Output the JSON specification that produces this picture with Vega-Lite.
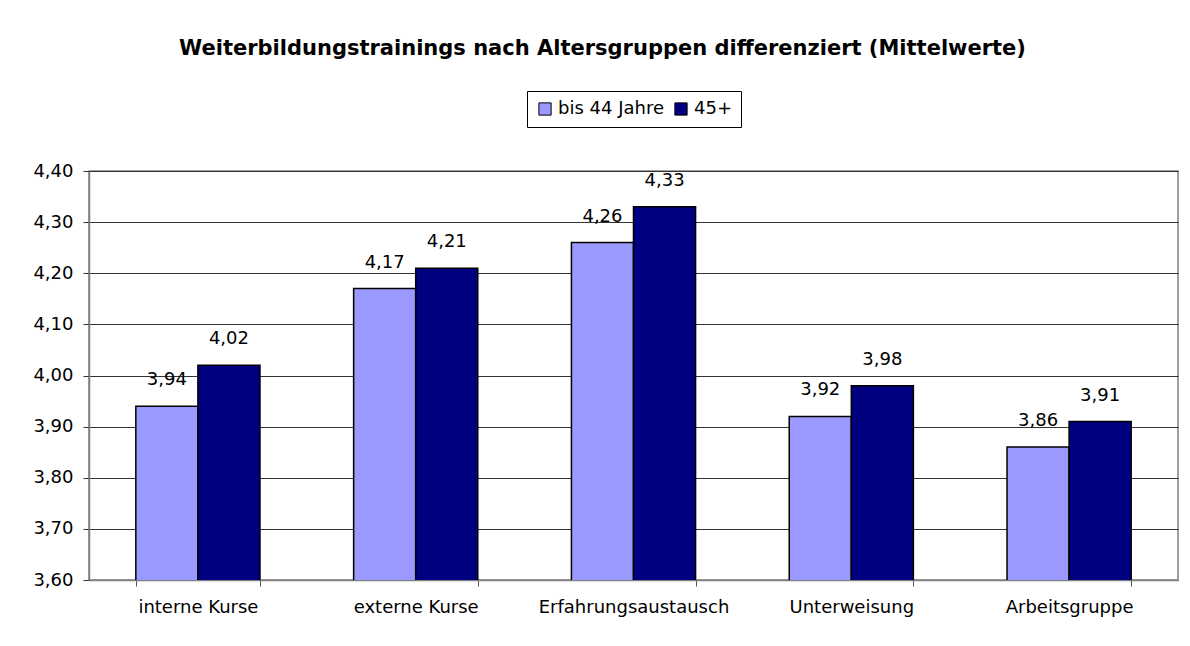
{
  "$schema": "https://vega.github.io/schema/vega-lite/v6.json",
  "width": 1089,
  "height": 409,
  "autosize": {"type": "none"},
  "padding": {"left": 89, "top": 171, "right": 12, "bottom": 66},
  "background": "white",
  "title": {
    "text": "Weiterbildungstrainings nach Altersgruppen differenziert (Mittelwerte)",
    "font": "DejaVu Sans",
    "fontSize": 21,
    "fontWeight": "bold",
    "color": "black",
    "anchor": "middle",
    "dx": -31,
    "offset": 32
  },
  "config": {
    "locale": {"number": {"decimal": ",", "thousands": ".", "grouping": [3], "currency": ["", " €"]}},
    "view": {"stroke": "#808080", "strokeWidth": 1.5},
    "font": "DejaVu Sans",
    "legend": {"layout": {"top": {"anchor": "middle"}}}
  },
  "data": {
    "values": [
      {"Kategorie": "interne Kurse", "Gruppe": "bis 44 Jahre", "Wert": 3.94},
      {"Kategorie": "interne Kurse", "Gruppe": "45+", "Wert": 4.02},
      {"Kategorie": "externe Kurse", "Gruppe": "bis 44 Jahre", "Wert": 4.17},
      {"Kategorie": "externe Kurse", "Gruppe": "45+", "Wert": 4.21},
      {"Kategorie": "Erfahrungsaustausch", "Gruppe": "bis 44 Jahre", "Wert": 4.26},
      {"Kategorie": "Erfahrungsaustausch", "Gruppe": "45+", "Wert": 4.33},
      {"Kategorie": "Unterweisung", "Gruppe": "bis 44 Jahre", "Wert": 3.92},
      {"Kategorie": "Unterweisung", "Gruppe": "45+", "Wert": 3.98},
      {"Kategorie": "Arbeitsgruppe", "Gruppe": "bis 44 Jahre", "Wert": 3.86},
      {"Kategorie": "Arbeitsgruppe", "Gruppe": "45+", "Wert": 3.91}
    ]
  },
  "encoding": {
    "x": {
      "field": "Kategorie",
      "type": "nominal",
      "sort": ["interne Kurse", "externe Kurse", "Erfahrungsaustausch", "Unterweisung", "Arbeitsgruppe"],
      "scale": {"paddingInner": 0.43, "paddingOuter": 0.215},
      "axis": {
        "title": null,
        "labelAngle": 0,
        "labelFontSize": 18,
        "labelColor": "black",
        "labelPadding": 12,
        "labelLimit": 400,
        "tickBand": "extent",
        "tickSize": 6,
        "tickColor": "#555",
        "domainColor": "#808080",
        "domainWidth": 1.5
      }
    },
    "xOffset": {"field": "Gruppe", "type": "nominal", "sort": ["bis 44 Jahre", "45+"]},
    "y": {
      "field": "Wert",
      "type": "quantitative",
      "scale": {"domain": [3.6, 4.4], "zero": false, "nice": false},
      "axis": {
        "title": null,
        "values": [3.6, 3.7, 3.8, 3.9, 4.0, 4.1, 4.2, 4.3, 4.4],
        "format": ".2f",
        "labelFontSize": 18,
        "labelColor": "black",
        "labelPadding": 10,
        "tickSize": 6,
        "tickColor": "#333",
        "domainColor": "#808080",
        "domainWidth": 1.5,
        "gridColor": "#333",
        "gridWidth": 1,
        "gridOpacity": 1
      }
    }
  },
  "layer": [
    {
      "mark": {"type": "bar", "stroke": "black", "strokeWidth": 1.5, "clip": true},
      "encoding": {
        "color": {
          "field": "Gruppe",
          "type": "nominal",
          "sort": ["bis 44 Jahre", "45+"],
          "scale": {"domain": ["bis 44 Jahre", "45+"], "range": ["#9999FF", "#000080"]},
          "legend": {
            "title": null,
            "orient": "top",
            "direction": "horizontal",
            "offset": 44,
            "symbolType": "square",
            "symbolSize": 150,
            "symbolStrokeColor": "black",
            "symbolStrokeWidth": 1,
            "labelFontSize": 18,
            "labelColor": "black",
            "columnPadding": 8,
            "labelOffset": 4,
            "strokeColor": "black",
            "padding": 9
          }
        }
      }
    },
    {
      "mark": {"type": "text", "fontSize": 18, "color": "black", "baseline": "alphabetic", "dy": -21},
      "encoding": {
        "text": {"field": "Wert", "type": "quantitative", "format": ".2f"}
      }
    }
  ]
}
